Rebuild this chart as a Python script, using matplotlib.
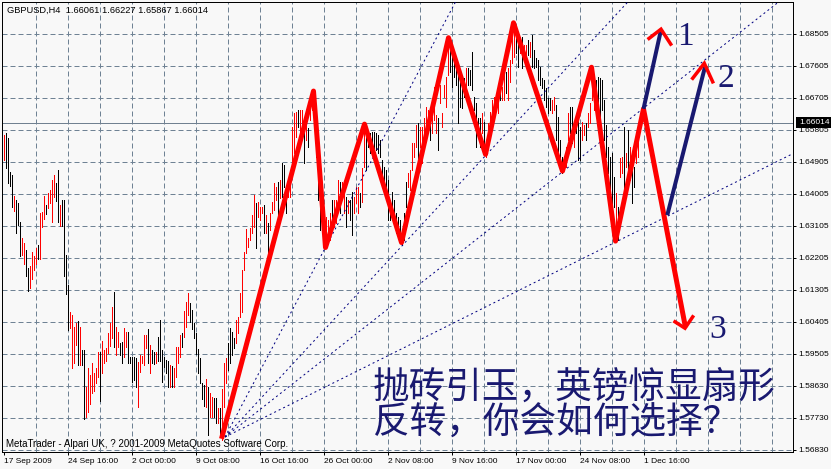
import matplotlib
matplotlib.use("Agg")
import matplotlib.pyplot as plt
from matplotlib.patches import Rectangle
import numpy as np

# GBPUSD H4 bars, 17 Sep 2009 onwards: high, low and direction (1 = up bar, red)
highs = [
    1.6567, 1.6573, 1.6559, 1.6462, 1.6454, 1.6395, 1.6384, 1.6376, 1.6321, 1.6277,
    1.6263, 1.6243, 1.6193, 1.6198, 1.6237, 1.6226, 1.6249, 1.6257, 1.6347, 1.6350,
    1.6395, 1.6370, 1.6404, 1.6412, 1.6440, 1.6454, 1.6432, 1.6468, 1.6370, 1.6384,
    1.6384, 1.6229, 1.6145, 1.6068, 1.6060, 1.6026, 1.6038, 1.6043, 1.6026, 1.5962,
    1.5962, 1.5857, 1.5911, 1.5891, 1.5926, 1.5897, 1.5911, 1.5956, 1.5956, 1.5987,
    1.5962, 1.5968, 1.6010, 1.6038, 1.6082, 1.6124, 1.6026, 1.6012, 1.5982, 1.5985,
    1.6024, 1.6012, 1.6012, 1.5942, 1.5942, 1.5942, 1.5940, 1.5928, 1.5948, 1.5945,
    1.6004, 1.6004, 1.6021, 1.5976, 1.5962, 1.5956, 1.5956, 1.5998, 1.6046, 1.5962,
    1.5942, 1.5934, 1.5931, 1.5920, 1.5917, 1.5911, 1.5971, 1.5971, 1.6004, 1.6010,
    1.6071, 1.6096, 1.6122, 1.6094, 1.6074, 1.6038, 1.6010, 1.5965, 1.5940, 1.5869,
    1.5863, 1.5880, 1.5857, 1.5841, 1.5829, 1.5827, 1.5827, 1.5799, 1.5799, 1.5852,
    1.5926, 1.5940, 1.5982, 1.6024, 1.6012, 1.5996, 1.6046, 1.6054, 1.6122, 1.6187,
    1.6237, 1.6302, 1.6277, 1.6305, 1.6341, 1.6398, 1.6376, 1.6378, 1.6364, 1.6364,
    1.6370, 1.6341, 1.6319, 1.6347, 1.6378, 1.6432, 1.6420, 1.6434, 1.6440, 1.6488,
    1.6482, 1.6412, 1.6434, 1.6460, 1.6589, 1.6628, 1.6631, 1.6637, 1.6637, 1.6637,
    1.6589, 1.6628, 1.6586, 1.6645, 1.6693, 1.6693, 1.6645, 1.6533, 1.6448, 1.6384,
    1.6347, 1.6336, 1.6327, 1.6347, 1.6384, 1.6384, 1.6384, 1.6440, 1.6434, 1.6434,
    1.6404, 1.6392, 1.6384, 1.6384, 1.6406, 1.6392, 1.6420, 1.6420, 1.6404, 1.6474,
    1.6589, 1.6595, 1.6575, 1.6572, 1.6575, 1.6575, 1.6572, 1.6567, 1.6552, 1.6496,
    1.6476, 1.6468, 1.6440, 1.6384, 1.6406, 1.6384, 1.6347, 1.6336, 1.6327, 1.6299,
    1.6347, 1.6434, 1.6460, 1.6468, 1.6544, 1.6544, 1.6595, 1.6600, 1.6589, 1.6589,
    1.6614, 1.6645, 1.6637, 1.6637, 1.6617, 1.6701, 1.6623, 1.6614, 1.6707, 1.6628,
    1.6707, 1.6729, 1.6823, 1.6806, 1.6791, 1.6777, 1.6769, 1.6758, 1.6743, 1.6701,
    1.6726, 1.6755, 1.6755, 1.6749, 1.6800, 1.6673, 1.6656, 1.6614, 1.6614, 1.6628,
    1.6603, 1.6552, 1.6600, 1.6631, 1.6665, 1.6673, 1.6665, 1.6684, 1.6729, 1.6701,
    1.6755, 1.6743, 1.6755, 1.6777, 1.6842, 1.6881, 1.6856, 1.6848, 1.6842, 1.6842,
    1.6820, 1.6820, 1.6834, 1.6828, 1.6848, 1.6806, 1.6783, 1.6777, 1.6758, 1.6726,
    1.6721, 1.6698, 1.6670, 1.6670, 1.6665, 1.6673, 1.6651, 1.6617, 1.6552, 1.6504,
    1.6504, 1.6533, 1.6628, 1.6645, 1.6645, 1.6595, 1.6614, 1.6623, 1.6589, 1.6603,
    1.6595, 1.6600, 1.6628, 1.6656, 1.6755, 1.6721, 1.6721, 1.6729, 1.6726, 1.6721,
    1.6665, 1.6595, 1.6533, 1.6504, 1.6516, 1.6448, 1.6404, 1.6364, 1.6502, 1.6504,
    1.6589, 1.6516, 1.6581, 1.6533, 1.6474, 1.6476, 1.6544, 1.6600, 1.6623,
]
lows = [
    1.6496, 1.6474, 1.6432, 1.6423, 1.6364, 1.6353, 1.6291, 1.6313, 1.6226, 1.6229,
    1.6204, 1.6170, 1.6127, 1.6137, 1.6162, 1.6187, 1.6204, 1.6218, 1.6218, 1.6307,
    1.6330, 1.6344, 1.6361, 1.6376, 1.6321, 1.6392, 1.6381, 1.6321, 1.6310, 1.6310,
    1.6170, 1.6119, 1.6018, 1.6024, 1.5911, 1.5926, 1.5976, 1.5920, 1.5920, 1.5920,
    1.5768, 1.5773, 1.5787, 1.5810, 1.5841, 1.5846, 1.5869, 1.5886, 1.5818, 1.5897,
    1.5926, 1.5931, 1.5954, 1.5973, 1.5996, 1.5971, 1.5948, 1.5971, 1.5948, 1.5926,
    1.5942, 1.5971, 1.5926, 1.5926, 1.5872, 1.5877, 1.5857, 1.5801, 1.5900, 1.5926,
    1.5920, 1.5968, 1.5926, 1.5897, 1.5926, 1.5923, 1.5926, 1.5931, 1.5931, 1.5872,
    1.5914, 1.5897, 1.5857, 1.5857, 1.5857, 1.5857, 1.5886, 1.5926, 1.5942, 1.5971,
    1.5998, 1.6026, 1.6060, 1.6040, 1.6021, 1.5996, 1.5951, 1.5897, 1.5869, 1.5824,
    1.5804, 1.5801, 1.5723, 1.5773, 1.5773, 1.5773, 1.5757, 1.5757, 1.5723, 1.5709,
    1.5801, 1.5869, 1.5905, 1.5926, 1.5948, 1.5968, 1.5982, 1.6010, 1.6054, 1.6068,
    1.6187, 1.6234, 1.6251, 1.6271, 1.6291, 1.6307, 1.6249, 1.6336, 1.6327, 1.6347,
    1.6291, 1.6291, 1.6237, 1.6299, 1.6347, 1.6356, 1.6384, 1.6341, 1.6390, 1.6392,
    1.6420, 1.6347, 1.6392, 1.6392, 1.6460, 1.6516, 1.6561, 1.6589, 1.6561, 1.6581,
    1.6488, 1.6552, 1.6533, 1.6609, 1.6637, 1.6589, 1.6504, 1.6384, 1.6299, 1.6299,
    1.6251, 1.6257, 1.6291, 1.6271, 1.6327, 1.6307, 1.6319, 1.6361, 1.6347, 1.6392,
    1.6347, 1.6307, 1.6347, 1.6327, 1.6285, 1.6347, 1.6376, 1.6347, 1.6364, 1.6378,
    1.6476, 1.6468, 1.6533, 1.6516, 1.6524, 1.6504, 1.6524, 1.6516, 1.6504, 1.6448,
    1.6420, 1.6384, 1.6327, 1.6327, 1.6347, 1.6319, 1.6291, 1.6291, 1.6263, 1.6257,
    1.6271, 1.6364, 1.6420, 1.6412, 1.6468, 1.6504, 1.6533, 1.6476, 1.6533, 1.6488,
    1.6572, 1.6586, 1.6572, 1.6552, 1.6572, 1.6609, 1.6572, 1.6524, 1.6656, 1.6589,
    1.6673, 1.6645, 1.6735, 1.6743, 1.6701, 1.6729, 1.6707, 1.6600, 1.6645, 1.6642,
    1.6673, 1.6701, 1.6707, 1.6707, 1.6693, 1.6637, 1.6533, 1.6572, 1.6533, 1.6572,
    1.6524, 1.6504, 1.6544, 1.6581, 1.6600, 1.6623, 1.6637, 1.6628, 1.6665, 1.6665,
    1.6665, 1.6684, 1.6665, 1.6715, 1.6769, 1.6786, 1.6797, 1.6758, 1.6797, 1.6755,
    1.6797, 1.6769, 1.6791, 1.6786, 1.6758, 1.6755, 1.6758, 1.6721, 1.6707, 1.6698,
    1.6665, 1.6645, 1.6628, 1.6637, 1.6628, 1.6637, 1.6552, 1.6516, 1.6482, 1.6460,
    1.6468, 1.6476, 1.6552, 1.6572, 1.6544, 1.6533, 1.6572, 1.6496, 1.6496, 1.6552,
    1.6567, 1.6552, 1.6589, 1.6600, 1.6665, 1.6637, 1.6665, 1.6628, 1.6572, 1.6637,
    1.6552, 1.6504, 1.6460, 1.6404, 1.6336, 1.6364, 1.6271, 1.6271, 1.6448, 1.6460,
    1.6384, 1.6476, 1.6420, 1.6440, 1.6376, 1.6420, 1.6488, 1.6504, 1.6587,
]
up = [
    1, 0, 0, 0, 0, 1, 0, 0, 0, 1,  1, 0, 0, 1, 1, 1, 1, 0, 1, 1,
    1, 0, 1, 1, 1, 1, 0, 0, 1, 0,  0, 0, 0, 1, 1, 1, 1, 0, 1, 0,
    0, 1, 1, 1, 1, 1, 1, 1, 0, 1,  1, 1, 1, 1, 1, 0, 1, 1, 0, 0,
    1, 1, 0, 0, 0, 0, 0, 1, 1, 1,  1, 1, 0, 1, 0, 0, 1, 0, 0, 0,
    0, 0, 0, 1, 0, 1, 1, 1, 1, 0,  1, 1, 1, 0, 0, 0, 0, 0, 0, 0,
    0, 1, 0, 1, 1, 0, 0, 1, 0, 1,  1, 1, 0, 0, 0, 0, 1, 1, 1, 1,
    1, 1, 1, 1, 1, 1, 0, 1, 1, 1,  0, 1, 0, 1, 1, 1, 1, 0, 1, 0,
    0, 0, 1, 1, 1, 1, 1, 0, 1, 1,  0, 1, 0, 1, 1, 0, 0, 0, 0, 0,
    0, 1, 1, 1, 0, 1, 1, 1, 0, 1,  1, 0, 1, 0, 0, 1, 1, 1, 0, 1,
    1, 0, 0, 0, 0, 0, 0, 0, 0, 0,  0, 0, 0, 0, 0, 0, 0, 0, 0, 0,
    0, 0, 1, 1, 1, 1, 1, 0, 1, 1,  1, 1, 1, 0, 1, 1, 1, 0, 1, 1,
    1, 1, 1, 0, 0, 0, 0, 0, 0, 0,  0, 1, 0, 0, 0, 0, 0, 0, 0, 1,
    0, 1, 1, 1, 1, 1, 1, 1, 0, 1,  1, 0, 1, 1, 1, 1, 0, 0, 1, 0,
    1, 1, 0, 1, 0, 0, 0, 0, 0, 0,  0, 0, 0, 0, 1, 1, 0, 0, 0, 0,
    1, 1, 1, 0, 0, 1, 0, 0, 0, 1,  1, 0, 1, 1, 1, 1, 0, 0, 0, 0,
    0, 0, 0, 0, 0, 0, 1, 0, 1, 1,  0, 1, 0, 1, 0, 0, 1, 1, 0,
]

symbol = "GBPUSD,H4"
last_ohlc = ["1.66061", "1.66227", "1.65867", "1.66014"]
last_close = 1.66014

# date labels, one every 32 bars
date_labels = ["17 Sep 2009", "24 Sep 16:00", "2 Oct 00:00", "9 Oct 08:00",
               "16 Oct 16:00", "26 Oct 00:00", "2 Nov 08:00", "9 Nov 16:00",
               "17 Nov 00:00", "24 Nov 08:00", "1 Dec 16:00"]
price_labels = ["1.68505", "1.67605", "1.66705", "1.65805", "1.64905", "1.64005",
                "1.63105", "1.62205", "1.61305", "1.60405", "1.59505", "1.58630",
                "1.57730", "1.56830"]

# hand drawn zigzag (bar index, price), last leg is the projected drop "3"
zz_bar = [109, 155, 161, 180.5, 199, 222.5, 241, 255, 279.5, 294, 306, 320, 341]
zz_price = [1.5712, 1.6690, 1.6250, 1.6597, 1.6264, 1.6840, 1.6512, 1.6882,
            1.6465, 1.6757, 1.6268, 1.6640, 1.6025]

# projected moves "1" and "2"
arrow1_bar = [320, 328.75]
arrow1_price = [1.6640, 1.6862]
arrow2_bar = [331.9, 350.75]
arrow2_price = [1.6341, 1.6758]
heads = [  # red chevrons at the tips
    ([322.75, 328.75, 333.6], [1.6838, 1.6864, 1.6822]),
    ([344.6, 350.4, 354.6], [1.6726, 1.6768, 1.6716]),
    ([335.75, 340.75, 344.6], [1.6041, 1.6023, 1.6055]),
]
tags = ["1", "2", "3"]
tag_bar = [340.75, 361, 357]
tag_price = [1.6842, 1.6725, 1.6018]

# fan from the low: origin and one point on each ray
fan_origin = (110.75, 1.5717)
fan_points = [(225.75, 1.6938), (310.75, 1.6932), (386.75, 1.6937), (393.25, 1.6510)]

caption = ["抛砖引玉，英镑惊显扇形", "反转，你会如何选择？"]
footer = "MetaTrader - Alpari UK, ? 2001-2009 MetaQuotes Software Corp."

BG = "#f8f8f8"
GRID = "#6f8294"
NAVY = "#191970"
SANS = ["Liberation Sans", "DejaVu Sans"]
CJK = ["Noto Sans CJK SC", "DejaVu Sans"]
W, H = 831, 469
px = 0.72  # one pixel in points at dpi 100

fig = plt.figure(figsize=(W / 100, H / 100), dpi=100, facecolor=BG)
ax = fig.add_axes([2 / W, 17 / H, 791 / W, 450 / H], facecolor=BG)

n = len(highs)
x = np.arange(n)
ax.set_xlim(-0.75, 394.75)
ax.set_ylim(1.567485, 1.6940475)

# grid
ytick_vals = 1.68505 - 0.009 * np.arange(len(price_labels))
for yv in ytick_vals:
    ax.axhline(yv, color=GRID, lw=px, ls=(0, (5, 3)), zorder=0)
for xv in range(16, 395, 16):
    ax.axvline(xv, color=GRID, lw=px, ls=(0, (5, 3)), zorder=0)
ax.axhline(last_close, color="#708090", lw=px, zorder=1)

# bars
cols = ["#ff0000" if u else "#000000" for u in up]
ax.vlines(x, lows, highs, colors=cols, lw=px, antialiased=False, zorder=2)

# fan
x_end = 394.75
for bx, bp in fan_points:
    slope = (bp - fan_origin[1]) / (bx - fan_origin[0])
    ax.plot([fan_origin[0], x_end], [fan_origin[1], fan_origin[1] + slope * (x_end - fan_origin[0])],
            color="#000080", lw=px, ls=(0, (2, 3)), zorder=3)

# zigzag and projections
ax.plot(zz_bar, zz_price, color="#ff0000", lw=5 * px, solid_joinstyle="round",
        solid_capstyle="butt", zorder=5)
ax.plot(arrow1_bar, arrow1_price, color=NAVY, lw=4 * px, solid_capstyle="butt", zorder=6)
ax.plot(arrow2_bar, arrow2_price, color=NAVY, lw=4 * px, solid_capstyle="butt", zorder=6)
for hx, hy in heads:
    ax.plot(hx, hy, color="#ff0000", lw=3.5 * px, solid_joinstyle="miter", zorder=7)
for t, tb, tp in zip(tags, tag_bar, tag_price):
    ax.text(tb, tp, t, fontsize=24, family=["Liberation Serif", "DejaVu Serif"],
            color=NAVY, ha="center", va="center", zorder=8)

# axes
for s in ["top", "bottom", "left", "right"]:
    ax.spines[s].set_linewidth(px)
    ax.spines[s].set_color("black")
ax.yaxis.tick_right()
ax.set_yticks(ytick_vals, price_labels)
ax.set_xticks(np.arange(len(date_labels)) * 32, date_labels)
for lab in ax.get_xticklabels():
    lab.set_ha("left")
ax.tick_params(axis="both", direction="out", length=3 * px, width=px, pad=2.0,
               labelsize=6.0, colors="black")
for lab in ax.get_xticklabels() + ax.get_yticklabels():
    lab.set_family(SANS)

# current price box on the price scale
fig.canvas.draw()
y_disp = ax.transData.transform((0, last_close))[1]
yf = y_disp / H
fig.patches.append(Rectangle((796 / W, yf - 5.5 / H), 35 / W, 11 / H,
                             transform=fig.transFigure, fc="black", ec="none", zorder=10))
fig.text(799 / W, yf, last_ohlc[3], color="white", fontsize=6.0, family=SANS,
         va="center", ha="left", zorder=11)

# header, footer and caption
fig.text(7 / W, 1 - 10.5 / H, symbol + "  " + " ".join(last_ohlc), fontsize=6.7,
         family=SANS, va="center", ha="left")
fig.text(6 / W, 1 - 444 / H, footer, fontsize=7.0, family=SANS, va="center", ha="left")
fig.text(373 / W, 1 - 398 / H, caption[0], fontsize=26.4, family=CJK, color=NAVY,
         va="baseline", ha="left", zorder=9)
fig.text(373 / W, 1 - 434 / H, caption[1], fontsize=26.4, family=CJK, color=NAVY,
         va="baseline", ha="left", zorder=9)

fig.savefig("out.png", dpi=100, facecolor=BG)
